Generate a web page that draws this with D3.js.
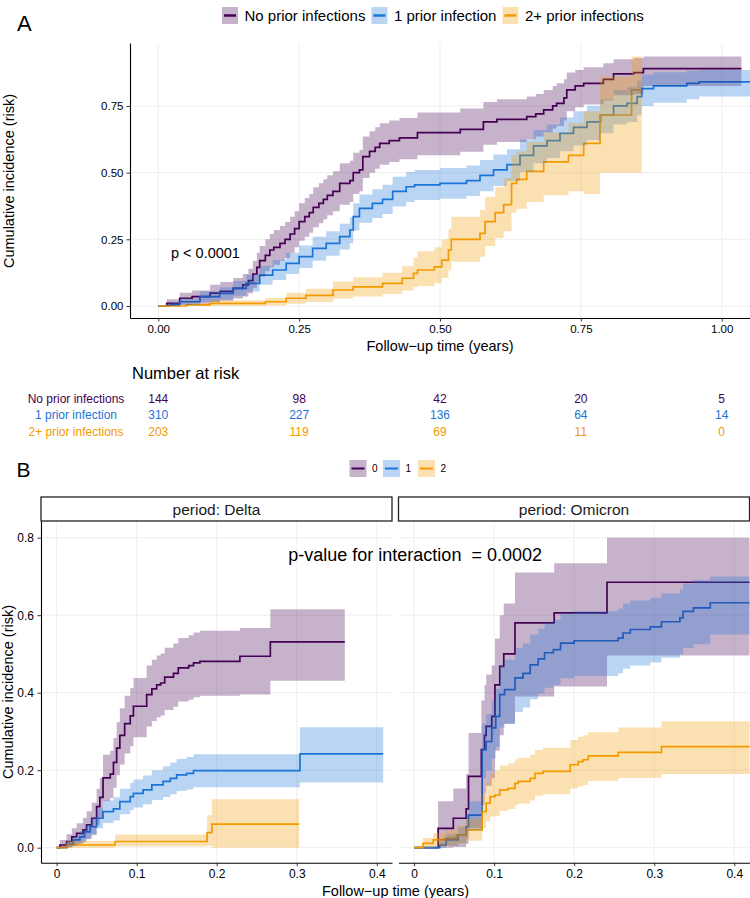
<!DOCTYPE html>
<html><head><meta charset="utf-8">
<script src="https://cdn.jsdelivr.net/npm/d3@7"></script>
<style>body{margin:0;background:#fff} svg{display:block} text{font-family:"Liberation Sans",Arial,Helvetica,sans-serif}</style>
</head><body><svg id="c" width="750" height="898"></svg>
<script>
const groupsA = ["No prior infections","1 prior infection","2+ prior infections"];
const groupsB = ["0","1","2"];
const colors = ["#440154","#1A75D6","#F39A00"];
const ticksAx = [0,0.25,0.5,0.75,1];
const ticksAy = [0,0.25,0.5,0.75];
const ticksBx = [0,0.1,0.2,0.3,0.4];
const ticksBy = [0,0.2,0.4,0.6,0.8];
const riskTimes = [0,0.25,0.5,0.75,1];
const riskNone = [144,98,42,20,5];
const riskOne = [310,227,136,64,14];
const riskTwo = [203,119,69,11,0];
const facets = ["period: Delta","period: Omicron"];

// rows: [time, estimate, lower, upper]
const aNone = [[0,0,0,0],[0.015,0.01,0,0.025],[0.038,0.029,0.005,0.05],[0.06,0.035,0.008,0.058],[0.092,0.048,0.015,0.08],[0.11,0.055,0.02,0.09],[0.133,0.066,0.028,0.105],[0.15,0.079,0.036,0.12],[0.16,0.095,0.048,0.14],[0.168,0.12,0.068,0.17],[0.175,0.145,0.09,0.2],[0.18,0.17,0.11,0.225],[0.19,0.19,0.13,0.25],[0.198,0.21,0.145,0.27],[0.205,0.22,0.155,0.285],[0.216,0.235,0.17,0.3],[0.225,0.25,0.18,0.315],[0.234,0.27,0.2,0.335],[0.242,0.29,0.22,0.355],[0.25,0.316,0.245,0.385],[0.26,0.335,0.26,0.405],[0.268,0.35,0.275,0.42],[0.275,0.37,0.295,0.445],[0.285,0.385,0.31,0.46],[0.293,0.4,0.325,0.475],[0.3,0.415,0.34,0.49],[0.31,0.43,0.355,0.505],[0.322,0.46,0.38,0.535],[0.34,0.47,0.39,0.545],[0.346,0.5,0.42,0.575],[0.357,0.51,0.43,0.585],[0.363,0.56,0.48,0.635],[0.375,0.58,0.5,0.655],[0.385,0.595,0.515,0.67],[0.393,0.61,0.53,0.685],[0.41,0.62,0.54,0.695],[0.428,0.63,0.55,0.705],[0.46,0.65,0.565,0.725],[0.536,0.6625,0.578,0.74],[0.577,0.69,0.605,0.765],[0.601,0.7,0.615,0.775],[0.654,0.71,0.625,0.785],[0.67,0.72,0.635,0.795],[0.684,0.735,0.65,0.81],[0.7,0.75,0.665,0.825],[0.707,0.76,0.675,0.835],[0.72,0.78,0.695,0.85],[0.725,0.81,0.73,0.875],[0.74,0.825,0.745,0.885],[0.755,0.835,0.755,0.895],[0.79,0.85,0.77,0.91],[0.808,0.87,0.79,0.925],[0.844,0.875,0.795,0.93],[0.861,0.89,0.825,0.935],[1.035,0.89,0.825,0.935]];
const aOne = [[0,0,0,0],[0.02,0.005,0,0.012],[0.038,0.016,0.004,0.028],[0.074,0.035,0.015,0.055],[0.109,0.0475,0.024,0.07],[0.133,0.066,0.038,0.094],[0.156,0.085,0.054,0.116],[0.18,0.116,0.08,0.15],[0.203,0.135,0.097,0.172],[0.227,0.16,0.12,0.2],[0.25,0.185,0.142,0.227],[0.274,0.216,0.17,0.26],[0.298,0.235,0.188,0.28],[0.322,0.26,0.212,0.308],[0.34,0.285,0.235,0.333],[0.346,0.335,0.283,0.385],[0.357,0.366,0.312,0.418],[0.38,0.385,0.33,0.438],[0.398,0.4,0.345,0.455],[0.416,0.43,0.373,0.485],[0.44,0.447,0.39,0.502],[0.455,0.454,0.397,0.51],[0.5,0.46,0.402,0.517],[0.547,0.47,0.412,0.527],[0.571,0.49,0.43,0.547],[0.595,0.51,0.45,0.568],[0.619,0.53,0.468,0.588],[0.642,0.565,0.502,0.624],[0.666,0.6,0.535,0.66],[0.69,0.62,0.555,0.68],[0.713,0.647,0.58,0.707],[0.737,0.67,0.602,0.73],[0.761,0.69,0.622,0.75],[0.785,0.716,0.648,0.775],[0.808,0.75,0.68,0.81],[0.832,0.76,0.69,0.82],[0.85,0.785,0.715,0.845],[0.858,0.815,0.75,0.868],[0.879,0.825,0.762,0.876],[0.938,0.835,0.775,0.882],[0.96,0.84,0.785,0.885],[1.06,0.84,0.785,0.885]];
const aTwo = [[0,0,0,0],[0.05,0.004,0,0.01],[0.092,0.01,0,0.022],[0.19,0.016,0.002,0.03],[0.227,0.029,0.008,0.05],[0.262,0.04,0.015,0.065],[0.31,0.06,0.028,0.092],[0.346,0.072,0.036,0.108],[0.398,0.085,0.045,0.125],[0.433,0.104,0.058,0.15],[0.453,0.122,0.07,0.18],[0.46,0.135,0.075,0.205],[0.49,0.147,0.085,0.22],[0.503,0.172,0.105,0.25],[0.515,0.21,0.135,0.29],[0.52,0.25,0.166,0.335],[0.571,0.272,0.185,0.36],[0.58,0.316,0.225,0.41],[0.598,0.35,0.255,0.445],[0.613,0.38,0.28,0.48],[0.627,0.46,0.35,0.565],[0.636,0.475,0.365,0.58],[0.654,0.505,0.39,0.615],[0.684,0.54,0.415,0.65],[0.728,0.565,0.43,0.685],[0.755,0.61,0.42,0.73],[0.784,0.716,0.5,0.86],[0.84,0.81,0.5,0.935],[0.858,0.81,0.5,0.935]];

const dNone = [[0,0,0,0],[0.004,0.007,0,0.02],[0.0125,0.016,0,0.035],[0.019,0.028,0.005,0.05],[0.025,0.037,0.01,0.063],[0.033,0.046,0.015,0.077],[0.0375,0.059,0.023,0.094],[0.044,0.076,0.035,0.116],[0.05,0.106,0.058,0.152],[0.054,0.13,0.078,0.18],[0.058,0.18,0.12,0.24],[0.067,0.19,0.128,0.25],[0.071,0.22,0.155,0.283],[0.075,0.257,0.187,0.324],[0.079,0.29,0.215,0.36],[0.085,0.32,0.243,0.392],[0.092,0.34,0.262,0.412],[0.096,0.365,0.285,0.438],[0.1125,0.395,0.313,0.47],[0.119,0.41,0.327,0.485],[0.125,0.42,0.336,0.496],[0.13,0.425,0.341,0.501],[0.135,0.44,0.355,0.516],[0.146,0.45,0.364,0.527],[0.152,0.464,0.377,0.541],[0.165,0.47,0.382,0.548],[0.171,0.477,0.388,0.555],[0.179,0.481,0.392,0.56],[0.229,0.494,0.395,0.567],[0.267,0.531,0.431,0.615],[0.36,0.531,0.431,0.615]];
const dOne = [[0,0,0,0],[0.0125,0.009,0.002,0.016],[0.021,0.02,0.008,0.032],[0.029,0.028,0.013,0.043],[0.035,0.041,0.022,0.06],[0.042,0.054,0.032,0.076],[0.05,0.076,0.05,0.102],[0.058,0.093,0.064,0.122],[0.071,0.1,0.07,0.13],[0.079,0.119,0.086,0.152],[0.092,0.132,0.097,0.167],[0.096,0.14,0.104,0.176],[0.108,0.149,0.112,0.186],[0.119,0.162,0.123,0.2],[0.133,0.171,0.131,0.21],[0.142,0.179,0.138,0.219],[0.15,0.188,0.146,0.229],[0.1625,0.192,0.15,0.234],[0.171,0.199,0.156,0.241],[0.304,0.242,0.168,0.311],[0.408,0.242,0.168,0.311]];
const dTwo = [[0,0,0,0],[0.0125,0.007,0,0.017],[0.073,0.016,0.003,0.034],[0.188,0.039,0.005,0.084],[0.194,0.061,0,0.125],[0.303,0.061,0,0.125]];

const oNone = [[0,0,0,0],[0.03,0.05,0,0.12],[0.049,0.076,0.002,0.153],[0.065,0.1,0.01,0.19],[0.068,0.184,0.05,0.296],[0.084,0.253,0.11,0.38],[0.088,0.29,0.14,0.42],[0.09,0.313,0.16,0.447],[0.097,0.339,0.18,0.47],[0.101,0.42,0.25,0.54],[0.107,0.468,0.29,0.6],[0.112,0.5,0.32,0.63],[0.126,0.58,0.39,0.71],[0.175,0.606,0.416,0.734],[0.241,0.685,0.496,0.8],[0.45,0.685,0.496,0.8]];
const oOne = [[0,0,0,0],[0.032,0.007,0,0.016],[0.04,0.02,0.005,0.035],[0.055,0.033,0.012,0.054],[0.065,0.054,0.025,0.085],[0.068,0.084,0.045,0.12],[0.085,0.253,0.18,0.32],[0.09,0.274,0.2,0.345],[0.097,0.309,0.23,0.38],[0.102,0.339,0.26,0.41],[0.107,0.395,0.31,0.47],[0.113,0.408,0.32,0.485],[0.126,0.438,0.35,0.515],[0.136,0.45,0.362,0.527],[0.145,0.472,0.383,0.55],[0.155,0.487,0.398,0.565],[0.163,0.503,0.413,0.58],[0.174,0.511,0.42,0.588],[0.183,0.528,0.437,0.605],[0.2,0.534,0.443,0.61],[0.255,0.541,0.45,0.617],[0.261,0.554,0.462,0.63],[0.27,0.563,0.47,0.638],[0.295,0.57,0.478,0.645],[0.309,0.583,0.49,0.656],[0.332,0.593,0.5,0.666],[0.336,0.61,0.515,0.682],[0.349,0.619,0.525,0.69],[0.37,0.632,0.55,0.7],[0.45,0.632,0.55,0.7]];
const oTwo = [[0,0,0,0],[0.011,0.011,0,0.025],[0.024,0.02,0.003,0.038],[0.038,0.024,0.005,0.045],[0.053,0.033,0.01,0.058],[0.065,0.046,0.018,0.075],[0.085,0.093,0.05,0.14],[0.09,0.115,0.068,0.168],[0.095,0.132,0.08,0.19],[0.101,0.136,0.082,0.2],[0.107,0.149,0.095,0.212],[0.1175,0.153,0.1,0.218],[0.126,0.166,0.11,0.228],[0.13,0.171,0.114,0.232],[0.145,0.179,0.122,0.24],[0.151,0.192,0.134,0.252],[0.161,0.197,0.138,0.258],[0.195,0.214,0.153,0.278],[0.205,0.222,0.158,0.286],[0.211,0.227,0.162,0.29],[0.2175,0.237,0.172,0.298],[0.255,0.246,0.18,0.31],[0.309,0.261,0.19,0.326],[0.45,0.261,0.19,0.326]];

const svg = d3.select("#c");
const defs = svg.append("defs");
let clipN = 0;
function clip(x, y){
  const id = "clip" + (clipN++);
  const [x0,x1] = x.range(), [y0,y1] = y.range();
  defs.append("clipPath").attr("id", id).append("rect")
    .attr("x", x0).attr("y", y1).attr("width", x1 - x0).attr("height", y0 - y1);
  return id;
}
function grid(x, y, xt, yt){
  const g = svg.append("g");
  const [x0,x1] = x.range(), [y0,y1] = y.range();
  g.selectAll(null).data(xt).join("line").attr("x1", d => x(d)).attr("x2", d => x(d))
    .attr("y1", y0).attr("y2", y1).attr("stroke", "#ebebeb").attr("stroke-width", 0.8);
  g.selectAll(null).data(yt).join("line").attr("y1", d => y(d)).attr("y2", d => y(d))
    .attr("x1", x0).attr("x2", x1).attr("stroke", "#ebebeb").attr("stroke-width", 0.8);
}
function curves(x, y, list){
  const id = clip(x, y);
  const g = svg.append("g").attr("clip-path", `url(#${id})`);
  const line = d3.line().curve(d3.curveStepAfter).x(d => x(d[0])).y(d => y(d[1]));
  const area = d3.area().curve(d3.curveStepAfter).x(d => x(d[0])).y0(d => y(d[2])).y1(d => y(d[3]));
  list.forEach((s, i) => g.append("path").attr("d", line(s)).attr("fill", "none")
    .attr("stroke", colors[i]).attr("stroke-width", 1.7));
  list.forEach((s, i) => g.append("path").attr("d", area(s)).attr("fill", colors[i]).attr("fill-opacity", 0.3));
}
function styleAxis(g, fs){
  g.select(".domain").attr("stroke", "#000").attr("stroke-width", 1.1);
  g.selectAll(".tick line").attr("stroke", "#333").attr("stroke-width", 1);
  g.selectAll(".tick text").attr("fill", "#000").style("font-size", fs + "px")
    .style("font-family", '"Liberation Sans", Arial, sans-serif');
}

// ---------------- Panel A ----------------
const xA = d3.scaleLinear().domain([-0.0502, 1.0502]).range([130, 750]);
const yA = d3.scaleLinear().domain([-0.045, 0.986]).range([318, 43]);
grid(xA, yA, ticksAx, ticksAy);
curves(xA, yA, [aNone, aOne, aTwo]);
svg.append("g").attr("transform", "translate(0,318)")
  .call(d3.axisBottom(xA).tickValues(ticksAx).tickFormat(d3.format(".2f")).tickSize(3.5).tickSizeOuter(0).tickPadding(3))
  .call(g => styleAxis(g, 11.5));
svg.append("g").attr("transform", "translate(130,0)")
  .call(d3.axisLeft(yA).tickValues(ticksAy).tickFormat(d3.format(".2f")).tickSize(3.5).tickSizeOuter(0).tickPadding(3))
  .call(g => styleAxis(g, 11.5));

svg.append("text").attr("x", 17).attr("y", 31).style("font-size", "22px").text("A");
svg.append("text").attr("transform", "translate(13.5,181) rotate(-90)").attr("text-anchor", "middle")
  .style("font-size", "14.5px").text("Cumulative incidence (risk)");
svg.append("text").attr("x", 440).attr("y", 351).attr("text-anchor", "middle")
  .style("font-size", "14.5px").text("Follow\u2212up time (years)");
svg.append("text").attr("x", 171).attr("y", 258.3).style("font-size", "14.5px").text("p < 0.0001");

// legend A
(function(){
  let x = 222;
  groupsA.forEach((name, i) => {
    const g = svg.append("g");
    g.append("rect").attr("x", x).attr("y", 7).attr("width", 16).attr("height", 17)
      .attr("fill", colors[i]).attr("fill-opacity", 0.3);
    g.append("line").attr("x1", x + 2).attr("x2", x + 14).attr("y1", 15.5).attr("y2", 15.5)
      .attr("stroke", colors[i]).attr("stroke-width", 2.5);
    const t = g.append("text").attr("x", x + 22.5).attr("y", 21).style("font-size", "15px").text(name);
    x = x + 22.5 + t.node().getComputedTextLength() + 6;
  });
})();

// risk table
svg.append("text").attr("x", 132).attr("y", 378.5).style("font-size", "16.5px").text("Number at risk");
[riskNone, riskOne, riskTwo].forEach((row, i) => {
  const yb = [402.5, 419.3, 436][i];
  svg.append("text").attr("x", 76).attr("y", yb).attr("text-anchor", "middle")
    .attr("fill", colors[i]).style("font-size", "12px").text(groupsA[i]);
  svg.selectAll(null).data(row).join("text")
    .attr("x", (d, j) => xA(riskTimes[j])).attr("y", yb).attr("text-anchor", "middle")
    .attr("fill", colors[i]).style("font-size", "12px").text(d => d);
});

// ---------------- Panel B ----------------
svg.append("text").attr("x", 16.5).attr("y", 476.7).style("font-size", "21px").text("B");
(function(){
  const xs = [349.5, 383, 418];
  groupsB.forEach((name, i) => {
    const x = xs[i];
    svg.append("rect").attr("x", x).attr("y", 460).attr("width", 17).attr("height", 17)
      .attr("fill", colors[i]).attr("fill-opacity", 0.3);
    svg.append("line").attr("x1", x + 2).attr("x2", x + 15).attr("y1", 468.5).attr("y2", 468.5)
      .attr("stroke", colors[i]).attr("stroke-width", 2);
    svg.append("text").attr("x", x + 22.5).attr("y", 472).style("font-size", "10px").text(name);
  });
})();

const yB = d3.scaleLinear().domain([-0.0387, 0.843]).range([862.7, 521]);
const xBd = d3.scaleLinear().domain([-0.0195, 0.419]).range([41, 392]);
const xBo = d3.scaleLinear().domain([-0.0195, 0.419]).range([398.5, 749.5]);
[[xBd, [dNone, dOne, dTwo]], [xBo, [oNone, oOne, oTwo]]].forEach(([x, list], k) => {
  grid(x, yB, ticksBx, ticksBy);
  curves(x, yB, list);
  const [x0, x1] = x.range();
  svg.append("rect").attr("x", x0).attr("y", 497).attr("width", x1 - x0).attr("height", 24)
    .attr("fill", "#fff").attr("stroke", "#222").attr("stroke-width", 1.3);
  svg.append("text").attr("x", (x0 + x1) / 2).attr("y", 514.5).attr("text-anchor", "middle")
    .style("font-size", "15.5px").attr("fill", "#1a1a1a").text(facets[k]);
  svg.append("g").attr("transform", "translate(0,862.7)")
    .call(d3.axisBottom(x).tickValues(ticksBx).tickFormat(d3.format("")).tickSize(3.5).tickSizeOuter(0).tickPadding(3))
    .call(g => styleAxis(g, 12));
});
svg.append("g").attr("transform", "translate(41,0)")
  .call(d3.axisLeft(yB).tickValues(ticksBy).tickFormat(d3.format(".1f")).tickSize(3.5).tickSizeOuter(0).tickPadding(3.5))
  .call(g => styleAxis(g, 12));
svg.append("text").attr("transform", "translate(12.7,692) rotate(-90)").attr("text-anchor", "middle")
  .style("font-size", "14.5px").text("Cumulative incidence (risk)");
svg.append("text").attr("x", 395.5).attr("y", 895.5).attr("text-anchor", "middle")
  .style("font-size", "14.5px").text("Follow\u2212up time (years)");
svg.append("text").attr("x", 288.3).attr("y", 560.5).style("font-size", "18px")
  .text("p-value for interaction  = 0.0002").attr("xml:space", "preserve").style("white-space", "pre");
</script></body></html>
